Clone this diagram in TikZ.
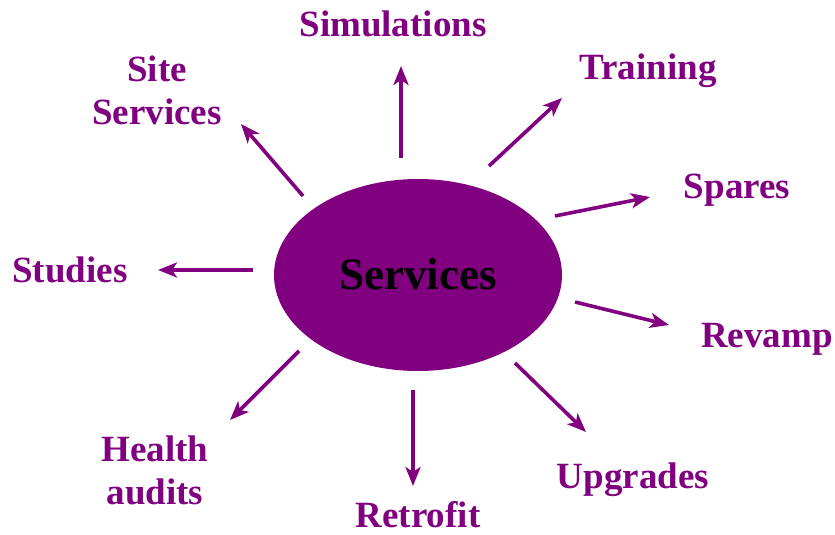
\documentclass[tikz,border=0pt]{standalone}
\usepackage{fontspec}
\setmainfont{Liberation Serif}
\usetikzlibrary{arrows.meta,shapes.geometric}
\definecolor{svcpurple}{HTML}{800080}
\begin{document}
\begin{tikzpicture}[x=1pt,y=-1pt,
  lbl/.style={text=svcpurple,font=\bfseries\fontsize{37}{43}\selectfont,align=center,inner sep=0pt},
  spoke/.style={draw=svcpurple,line width=3.6pt,-{Stealth[length=19pt,width=15pt,inset=5pt]}}]
\useasboundingbox (0,0) rectangle (835,535);
\node[ellipse,fill=svcpurple,minimum width=288pt,minimum height=192pt,inner sep=0pt] (svc) at (418,275) {};
\node[font=\bfseries\fontsize{45}{50}\selectfont,text=black,anchor=base] (svct) at (418,289) {Services};

\node[lbl,anchor=base] (sim) at (393,37) {Simulations};
\node[lbl,anchor=base] (tra) at (648,80) {Training};
\node[lbl,anchor=base] (spa) at (737,198) {Spares};
\node[lbl,anchor=base] (rev) at (767,347) {Revamp};
\node[lbl,anchor=base] (upg) at (633,488) {Upgrades};
\node[lbl,anchor=base] (ret) at (418,527) {Retrofit};
\node[lbl] (hea) at (155,470) {Health\\audits};
\node[lbl] (sit) at (157,90) {Site\\Services};
\node[lbl,anchor=base] (stu) at (70,282) {Studies};

\coordinate (s1) at (401,158); \coordinate (e1) at (401,66);
\coordinate (s2) at (489,166); \coordinate (e2) at (562,98);
\coordinate (s3) at (555,216); \coordinate (e3) at (650,197);
\coordinate (s4) at (575,302); \coordinate (e4) at (669,325);
\coordinate (s5) at (515,363); \coordinate (e5) at (586,432);
\coordinate (s6) at (413,390); \coordinate (e6) at (413,486);
\coordinate (s7) at (299,351); \coordinate (e7) at (230,420);
\coordinate (s8) at (253,270); \coordinate (e8) at (158,270);
\coordinate (s9) at (303,196); \coordinate (e9) at (241,124);
\foreach \i in {1,...,9} {\draw[spoke] (s\i) -- (e\i);}
\end{tikzpicture}
\end{document}
